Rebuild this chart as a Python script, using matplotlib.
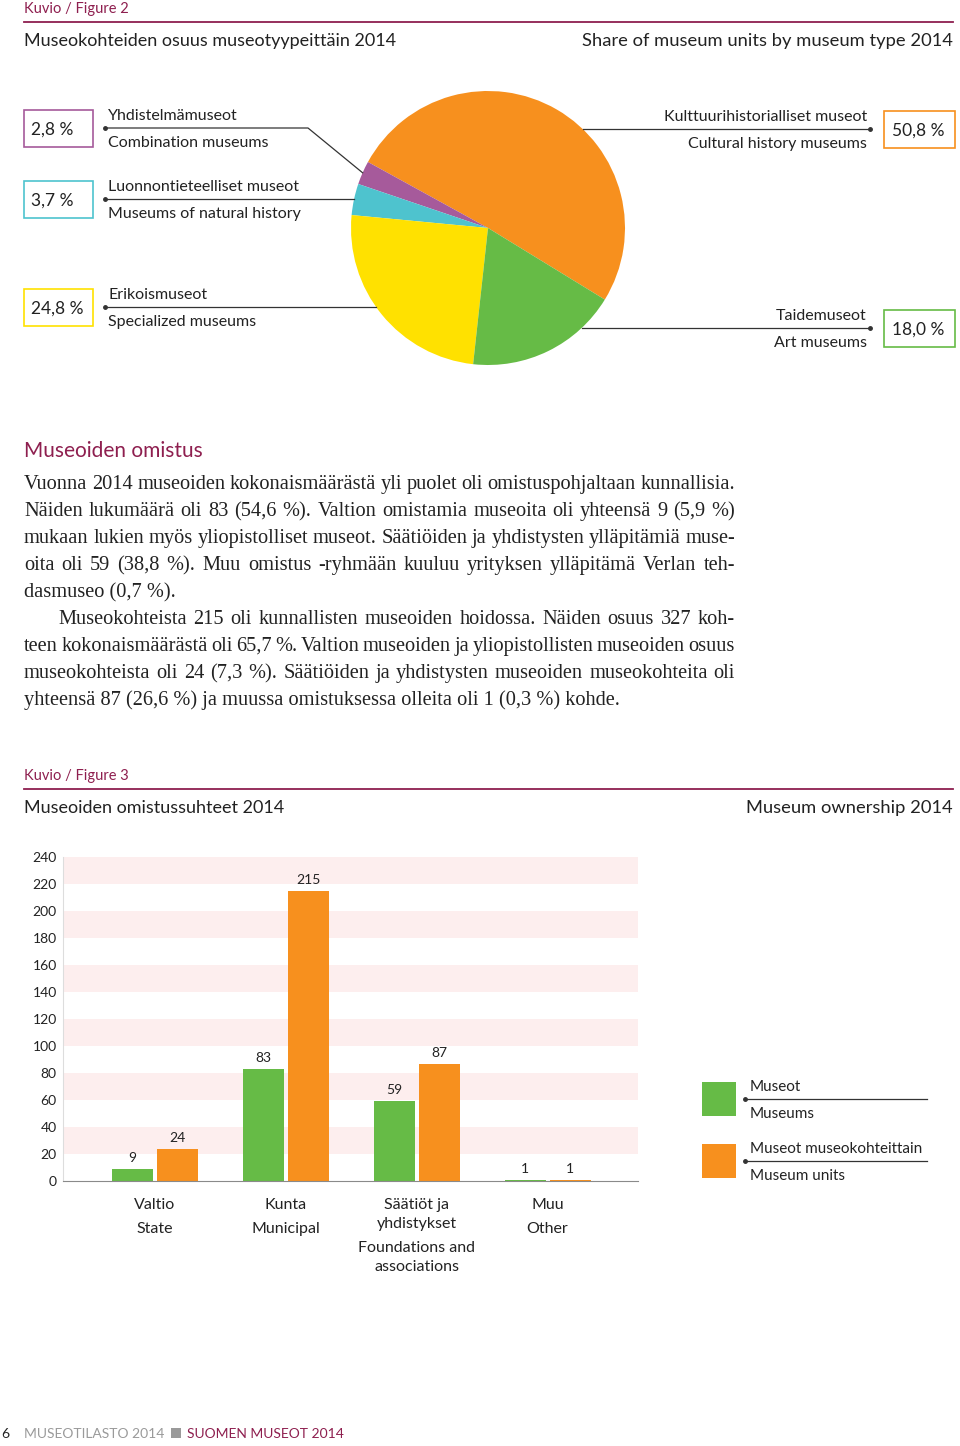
import numpy as np
import matplotlib.pyplot as plt
from matplotlib.patches import Rectangle

W, H = 960, 1446
SANS = "Lato"
SERIF = "Liberation Serif"
MAROON = "#8E1F4F"
INK = "#222222"
LINE = "#333333"

# Figure 2: share of museum units by museum type (pie, in drawing order)
pie_fi = ["Kulttuurihistorialliset museot", "Yhdistelmämuseot",
          "Luonnontieteelliset museot", "Erikoismuseot", "Taidemuseot"]
pie_en = ["Cultural history museums", "Combination museums",
          "Museums of natural history", "Specialized museums", "Art museums"]
pie_share = [50.8, 2.8, 3.7, 24.8, 18.0]
pie_colors = ["#F7901E", "#A65A9B", "#4EC3CE", "#FFE100", "#66BB46"]

# Figure 3: museum ownership
owners_fi = [["Valtio"], ["Kunta"], ["Säätiöt ja", "yhdistykset"], ["Muu"]]
owners_en = [["State"], ["Municipal"], ["Foundations and", "associations"], ["Other"]]
museums = [9, 83, 59, 1]
units = [24, 215, 87, 1]
series_fi = ["Museot", "Museot museokohteittain"]
series_en = ["Museums", "Museum units"]
series_colors = ["#66BB46", "#F7901E"]

para1 = [
    "Vuonna 2014 museoiden kokonaismäärästä yli puolet oli omistuspohjaltaan kunnallisia.",
    "Näiden lukumäärä oli 83 (54,6 %). Valtion omistamia museoita oli yhteensä 9 (5,9 %)",
    "mukaan lukien myös yliopistolliset museot. Säätiöiden ja yhdistysten ylläpitämiä muse-",
    "oita oli 59 (38,8 %). Muu omistus -ryhmään kuuluu yrityksen ylläpitämä Verlan teh-",
    "dasmuseo (0,7 %).",
]
para2 = [
    "Museokohteista 215 oli kunnallisten museoiden hoidossa. Näiden osuus 327 koh-",
    "teen kokonaismäärästä oli 65,7 %. Valtion museoiden ja yliopistollisten museoiden osuus",
    "museokohteista oli 24 (7,3 %). Säätiöiden ja yhdistysten museoiden museokohteita oli",
    "yhteensä 87 (26,6 %) ja muussa omistuksessa olleita oli 1 (0,3 %) kohde.",
]

fig = plt.figure(figsize=(W / 100, H / 100), dpi=100)
ov = fig.add_axes([0, 0, 1, 1], zorder=5)
ov.set_xlim(0, W)
ov.set_ylim(H, 0)
ov.axis("off")
renderer = fig.canvas.get_renderer()


def pct(v):
    return f"{v:.1f} %".replace(".", ",")


def header(y, fig_no, title_fi, title_en):
    ov.text(24, y + 1, f"Kuvio / Figure {fig_no}", family=SANS, size=10.5,
            color=MAROON, va="center")
    ov.plot([24, 953], [y + 14, y + 14], color=MAROON, lw=1.3)
    ov.text(24, y + 33, title_fi, family=SANS, size=13, color=INK, va="center")
    ov.text(953, y + 33, title_en, family=SANS, size=13.2, color=INK,
            va="center", ha="right")


def text_line(words_line, x0, y, x1=None, **kw):
    # x1 given -> justify the words between x0 and x1
    if x1 is None:
        ov.text(x0, y, words_line, **kw)
        return
    words = words_line.split(" ")
    objs = [ov.text(0, y, w, **kw) for w in words]
    widths = [o.get_window_extent(renderer).width for o in objs]
    gap = (x1 - x0 - sum(widths)) / (len(words) - 1)
    x = x0
    for o, w in zip(objs, widths):
        o.set_x(x)
        x += w + gap


# ---- Figure 2 ----
header(8, 2, "Museokohteiden osuus museotyypeittäin 2014",
       "Share of museum units by museum type 2014")

CX, CY, R = 488, 228, 137
START = -31.5
axp = fig.add_axes([(CX - R) / W, (H - CY - R) / H, 2 * R / W, 2 * R / H])
axp.pie(pie_share, colors=pie_colors, startangle=START, counterclock=True,
        wedgeprops=dict(linewidth=0))
axp.set_xlim(-1, 1)
axp.set_ylim(-1, 1)

# label placement: side and leader-line y for each slice
label_side = ["right", "left", "left", "left", "right"]
label_y = [129, 128, 199, 307, 328]
frac = np.array(pie_share) / sum(pie_share)
mid_angles = START + 360 * (np.cumsum(frac) - frac / 2)

for i in range(len(pie_share)):
    y = label_y[i]
    side = label_side[i]
    dy = y - CY
    if side == "left":
        if abs(dy) > 90:  # small slice near top: bent leader to wedge middle
            a = np.deg2rad(mid_angles[i])
            ex, ey = CX + R * np.cos(a), CY - R * np.sin(a)
            ov.plot([105, 308, ex], [y, y, ey], color=LINE, lw=0.9)
        else:
            ex = CX - np.sqrt(R ** 2 - dy ** 2)
            ov.plot([105, ex], [y, y], color=LINE, lw=0.9)
        ov.plot(105, y, "o", ms=2.5, color=LINE)
        ov.text(108, y - 12, pie_fi[i], family=SANS, size=11.5, color=INK, va="center")
        ov.text(108, y + 15, pie_en[i], family=SANS, size=11.5, color=INK, va="center")
        ov.add_patch(Rectangle((24, y - 18), 69, 37, fill=False,
                               edgecolor=pie_colors[i], lw=1.2))
        ov.text(31, y + 2, pct(pie_share[i]), family=SANS, size=12.5,
                color=INK, va="center")
    else:
        ex = CX + np.sqrt(R ** 2 - dy ** 2)
        ov.plot([ex, 870], [y, y], color=LINE, lw=0.9)
        ov.plot(870, y, "o", ms=2.5, color=LINE)
        ov.text(867, y - 12, pie_fi[i], family=SANS, size=11.5, color=INK,
                va="center", ha="right")
        ov.text(867, y + 15, pie_en[i], family=SANS, size=11.5, color=INK,
                va="center", ha="right")
        ov.add_patch(Rectangle((884, y - 18), 71, 37, fill=False,
                               edgecolor=pie_colors[i], lw=1.2))
        ov.text(892, y + 2, pct(pie_share[i]), family=SANS, size=12.5,
                color=INK, va="center")

# ---- Text section ----
ov.text(24, 451, "Museoiden omistus", family=SANS, size=15, color=MAROON, va="center")
body = dict(family=SERIF, size=14.7, color=INK, va="baseline")
y = 489
for k, line in enumerate(para1):
    last = k == len(para1) - 1
    text_line(line, 24, y, None if last else 735, **body)
    y += 27
for k, line in enumerate(para2):
    last = k == len(para2) - 1
    text_line(line, 58 if k == 0 else 24, y, None if last else 735, **body)
    y += 27

# ---- Figure 3 ----
header(775, 3, "Museoiden omistussuhteet 2014", "Museum ownership 2014")

X0, X1, YB, YT = 63, 638, 1181, 857
axb = fig.add_axes([X0 / W, (H - YB) / H, (X1 - X0) / W, (YB - YT) / H])
x = np.arange(len(museums))
bw, off = 0.313, 0.172
for v in range(20, 240, 40):
    axb.axhspan(v, v + 20, color="#FDEEEE", lw=0, zorder=0)
b1 = axb.bar(x - off, museums, bw, color=series_colors[0], zorder=2)
b2 = axb.bar(x + off, units, bw, color=series_colors[1], zorder=2)
for bars, vals in ((b1, museums), (b2, units)):
    for rect, v in zip(bars, vals):
        axb.annotate(str(v), (rect.get_x() + rect.get_width() / 2, v),
                     xytext=(0, 5), textcoords="offset pixels", ha="center",
                     va="bottom", family=SANS, size=10, color=INK)
axb.set_xlim(-0.70, 3.69)
axb.set_ylim(0, 240)
axb.set_yticks(range(0, 241, 20))
axb.set_xticks([])
axb.tick_params(axis="y", length=0, pad=4.5, labelsize=10, labelcolor=INK)
for lab in axb.get_yticklabels():
    lab.set_family(SANS)
for s in ("top", "right"):
    axb.spines[s].set_visible(False)
axb.spines["bottom"].set_color("#8A8A8A")
axb.spines["bottom"].set_zorder(3)
axb.spines["left"].set_color("#DDDDDD")
axb.spines["left"].set_linewidth(0.8)

for i in range(len(museums)):
    dy = 24
    for line in owners_fi[i]:
        axb.annotate(line, (i, 0), xytext=(0, -dy), textcoords="offset pixels",
                     ha="center", va="center", family=SANS, size=11.5, color=INK)
        dy += 19
    dy += 5
    for line in owners_en[i]:
        axb.annotate(line, (i, 0), xytext=(0, -dy), textcoords="offset pixels",
                     ha="center", va="center", family=SANS, size=11.5, color=INK)
        dy += 19

# legend
for k in range(2):
    yl = 1099 + 62 * k
    ov.add_patch(Rectangle((702, yl - 17), 34, 34, color=series_colors[k], lw=0))
    ov.plot([745, 927], [yl, yl], color=LINE, lw=0.9)
    ov.plot(745, yl, "o", ms=2.5, color=LINE)
    ov.text(750, yl - 12, series_fi[k], family=SANS, size=11, color=INK, va="center")
    ov.text(750, yl + 15, series_en[k], family=SANS, size=11, color=INK, va="center")

# footer
ov.text(1, 1434, "6", family=SANS, size=10, color=INK, va="center")
ov.text(24, 1434, "MUSEOTILASTO 2014", family=SANS, size=10, color="#9A9A9A", va="center")
ov.add_patch(Rectangle((171, 1428), 10, 10, color="#9A9A9A", lw=0))
ov.text(187, 1434, "SUOMEN MUSEOT 2014", family=SANS, size=10, color=MAROON, va="center")

fig.savefig("out.png", dpi=100)
